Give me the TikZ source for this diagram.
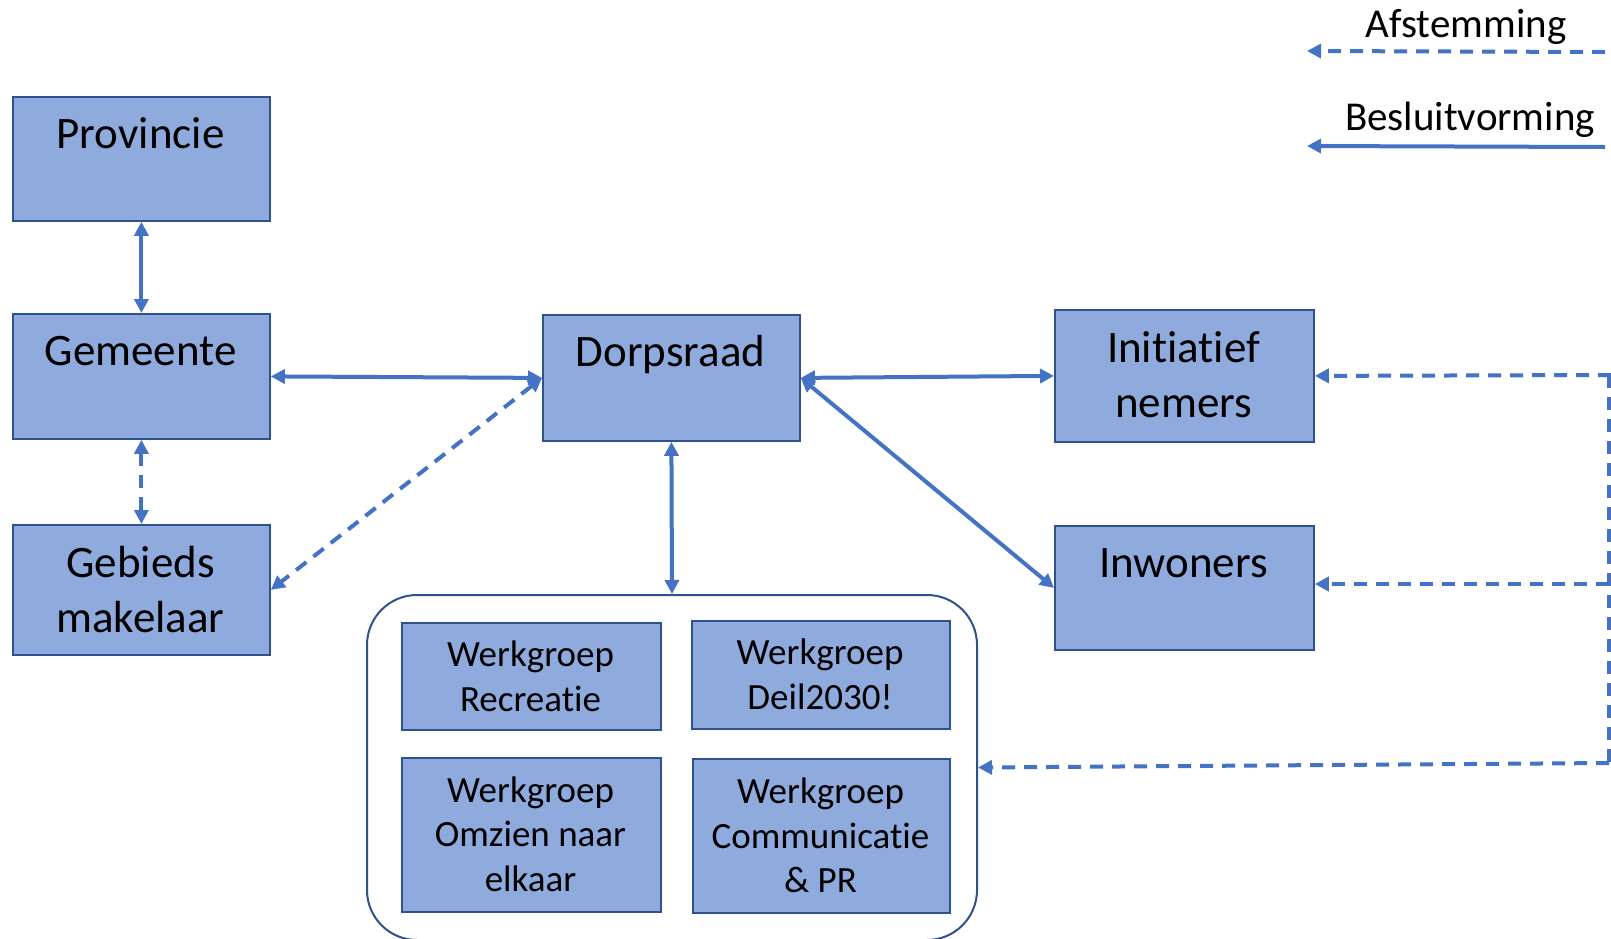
\documentclass[tikz,border=0pt]{standalone}
\usepackage{fontspec}
\setmainfont{Carlito}[RawFeature={-liga;-clig;-calt;-dlig}]
\usetikzlibrary{arrows.meta}
\definecolor{arr}{HTML}{4472C4}
\definecolor{boxfill}{HTML}{8FAADC}
\definecolor{boxline}{HTML}{2F528F}
\begin{document}
\begin{tikzpicture}[x=1pt,y=-1pt,
  box/.style={draw=boxline, line width=1.8pt, fill=boxfill, inner sep=0pt, anchor=north west},
  big/.style={font=\fontsize{45}{54}\selectfont, anchor=base, inner sep=0pt},
  small/.style={font=\fontsize{37}{44}\selectfont, anchor=base, inner sep=0pt},
  leg/.style={font=\fontsize{41}{49}\selectfont, anchor=base, inner sep=0pt},
  conn/.style={draw=arr, line width=4pt, {Triangle[length=14pt,width=14pt]}-{Triangle[length=14pt,width=14pt]}},
  conndash/.style={conn, dash pattern=on 13pt off 9pt},
  onedash/.style={draw=arr, line width=4pt, dash pattern=on 13pt off 9pt, -{Triangle[length=14pt,width=14pt]}},
  onesolid/.style={draw=arr, line width=4pt, -{Triangle[length=14pt,width=14pt]}},
  dashline/.style={draw=arr, line width=4pt, dash pattern=on 13pt off 9pt}
]
\useasboundingbox (0,0) rectangle (1611,938);
\fill[white] (0,0) rectangle (1611,938);

% main boxes
\node[box, minimum width=257pt, minimum height=124pt] (prov) at (12,96) {};
\node[box, minimum width=257pt, minimum height=125pt] (gem) at (12,313) {};
\node[box, minimum width=257pt, minimum height=130pt] (geb) at (12,524) {};
\node[box, minimum width=257pt, minimum height=126pt] (dorp) at (542,314) {};
\node[box, minimum width=259pt, minimum height=132pt] (init) at (1054,309) {};
\node[box, minimum width=259pt, minimum height=124pt] (inw) at (1054,525) {};

% container
\node[draw=boxline, line width=2pt, rounded corners=50pt, inner sep=0pt, anchor=north west,
      minimum width=610pt, minimum height=345pt] (cont) at (366,594) {};
\node[box, minimum width=259pt, minimum height=107pt] (wg1) at (401,622) {};
\node[box, minimum width=258pt, minimum height=108pt] (wg2) at (691,620) {};
\node[box, minimum width=259pt, minimum height=154pt] (wg3) at (401,757) {};
\node[box, minimum width=257pt, minimum height=154pt] (wg4) at (692,758) {};

% texts
\node[big] (tprov) at (140.5,148) {Provincie};
\node[big] (tgem) at (140.5,365) {Gemeente};
\node[big] (tgeb1) at (140.5,577) {Gebieds};
\node[big] (tgeb2) at (140.5,632) {makelaar};
\node[big] (tdorp) at (670.5,366) {Dorpsraad};
\node[big] (tinit1) at (1183.5,362) {Initiatief};
\node[big] (tinit2) at (1183.5,417) {nemers};
\node[big] (tinw) at (1183.5,577) {Inwoners};

\node[small] (t1a) at (530.5,666.5) {Werkgroep};
\node[small] (t1b) at (530.5,711.5) {Recreatie};
\node[small] (t2a) at (820,664.5) {Werkgroep};
\node[small] (t2b) at (820,709.5) {Deil2030!};
\node[small] (t3a) at (530.5,802) {Werkgroep};
\node[small] (t3b) at (530.5,846.5) {Omzien naar};
\node[small] (t3c) at (530.5,891) {elkaar};
\node[small] (t4a) at (820.5,803) {Werkgroep};
\node[small] (t4b) at (820.5,848) {Communicatie};
\node[small] (t4c) at (820.5,892) {\& PR};

% legend
\node[leg] (lafst) at (1466,37) {Afstemming};
\node[leg] (lbesl) at (1470,130) {Besluitvorming};
\coordinate (la1) at (1605,52);
\coordinate (la2) at (1307,51);
\coordinate (lb1) at (1605,147);
\coordinate (lb2) at (1307,146);
\draw[onedash] (la1) -- (la2);
\draw[onesolid] (lb1) -- (lb2);

% connectors
\draw[conn] (prov.south) -- (gem.north);
\draw[conndash] (gem.south) -- (geb.north);
\draw[conn] (gem.east) -- (dorp.west);
\draw[conndash] (dorp.west) -- (geb.east);
\draw[conn] (dorp.east) -- (init.west);
\draw[conn] (dorp.east) -- (inw.west);
\draw[conn] (dorp.south) -- (cont.north);

% dashed bracket on the right
\coordinate (b1) at (1609,375);
\coordinate (b2) at (1609,584);
\coordinate (b3) at (1609,763);
\coordinate (b0) at (1611,375);
\draw[dashline] (b1) -- (b3);
\draw[onedash] (b0) -- (init.east);
\draw[onedash] (b2) -- (inw.east |- b2);
\draw[onedash] (b3) -- (cont.east);
\end{tikzpicture}
\end{document}
